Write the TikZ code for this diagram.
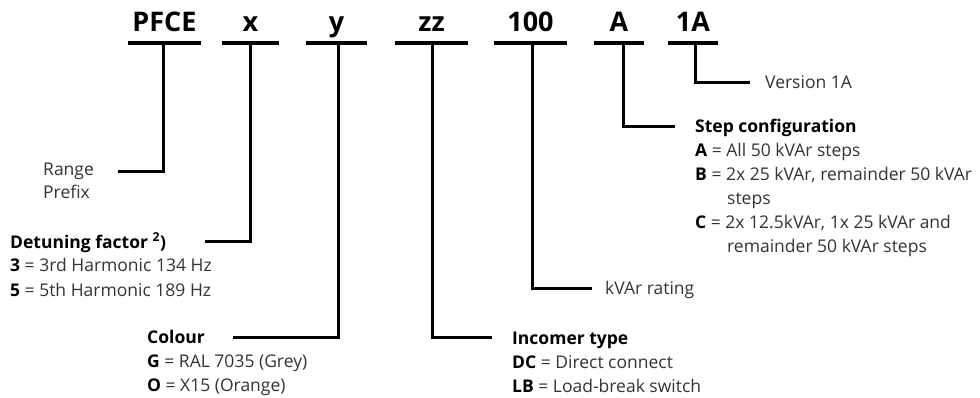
\documentclass[tikz,border=0pt]{standalone}
\usepackage{fontspec}
\setmainfont{Open Sans}
\begin{document}
\begin{tikzpicture}[x=1pt,y=-1pt,
  code/.style={font=\fontsize{27}{30}\selectfont\bfseries, anchor=base, inner sep=0pt},
  txt/.style={font=\fontsize{17.5}{24}\selectfont, anchor=base west, inner sep=0pt, text=black!80},
  hd/.style={txt, font=\fontsize{17.5}{24}\selectfont\bfseries, text=black},
  bar/.style={line width=3.4pt},
  lead/.style={line width=3pt, line join=miter}]
\useasboundingbox (0,0) rectangle (980,398);

% code letters
\node[code] (pfce) at (164.5,32) {PFCE};
\node[code] (cx)   at (250.5,32) {x};
\node[code] (cy)   at (336.5,32) {y};
\node[code] (czz)  at (431.5,32) {zz};
\node[code] (c100) at (530.5,32) {100};
\node[code] (cA)   at (619,32)   {A};
\node[code] (c1A)  at (693,32)   {1A};

% bars
\coordinate (pfceL) at (128,43); \coordinate (pfceR) at (201,43);
\coordinate (cxL) at (222,43);   \coordinate (cxR) at (279,43);
\coordinate (cyL) at (306,43);   \coordinate (cyR) at (367,43);
\coordinate (czzL) at (395,43);  \coordinate (czzR) at (468,43);
\coordinate (c100L) at (494,43); \coordinate (c100R) at (567,43);
\coordinate (cAL) at (594,43);   \coordinate (cAR) at (644,43);
\coordinate (c1AL) at (668,43);  \coordinate (c1AR) at (718,43);
\foreach \b in {pfce,cx,cy,czz,c100,cA,c1A} \draw[bar] (\b L) -- (\b R);

% leader start points
\coordinate (pfceT) at (163,43);
\coordinate (cxT) at (250,43);
\coordinate (cyT) at (338,43);
\coordinate (czzT) at (432,43);
\coordinate (c100T) at (532,43);
\coordinate (cAT) at (623,43);
\coordinate (c1AT) at (695,43);

% leader end points
\coordinate (pfceE) at (118,172);
\coordinate (cxE) at (205,242);
\coordinate (cyE) at (233,337);
\coordinate (czzE) at (492,337);
\coordinate (c100E) at (592,288);
\coordinate (cAE) at (675,127);
\coordinate (c1AE) at (750,83);

\foreach \b in {pfce,cx,cy,czz,c100,cA,c1A} \draw[lead] (\b T) |- (\b E);

% texts
\node[txt] (range) at (43,176) {Range};
\node[txt] (prefix) at (43,199) {Prefix};

\node[hd] (det) at (10,248) {Detuning factor \textsuperscript{2})};
\node[txt] (det3) at (10,272) {{\bfseries\color{black}3} = 3rd Harmonic 134 Hz};
\node[txt] (det5) at (10,296) {{\bfseries\color{black}5} = 5th Harmonic 189 Hz};

\node[hd] (col) at (147,343) {Colour};
\node[txt] (colG) at (147,367) {{\bfseries\color{black}G} = RAL 7035 (Grey)};
\node[txt] (colO) at (147,391) {{\bfseries\color{black}O} = X15 (Orange)};

\node[hd] (inc) at (512,344) {Incomer type};
\node[txt] (incDC) at (512,368) {{\bfseries\color{black}DC} = Direct connect};
\node[txt] (incLB) at (512,392) {{\bfseries\color{black}LB} = Load-break switch};

\node[txt] (kvar) at (605,294) {kVAr rating};

\node[hd] (step) at (695,133) {Step configuration};
\node[txt] (stepA) at (695,157) {{\bfseries\color{black}A} = All 50 kVAr steps};
\node[txt] (stepB) at (695,181) {{\bfseries\color{black}B} = 2x 25 kVAr, remainder 50 kVAr};
\node[txt] (stepB2) at (727,205) {steps};
\node[txt] (stepC) at (695,229) {{\bfseries\color{black}C} = 2x 12.5kVAr, 1x 25 kVAr and};
\node[txt] (stepC2) at (727,253) {remainder 50 kVAr steps};

\node[txt] (ver) at (765,89) {Version 1A};
\end{tikzpicture}
\end{document}
